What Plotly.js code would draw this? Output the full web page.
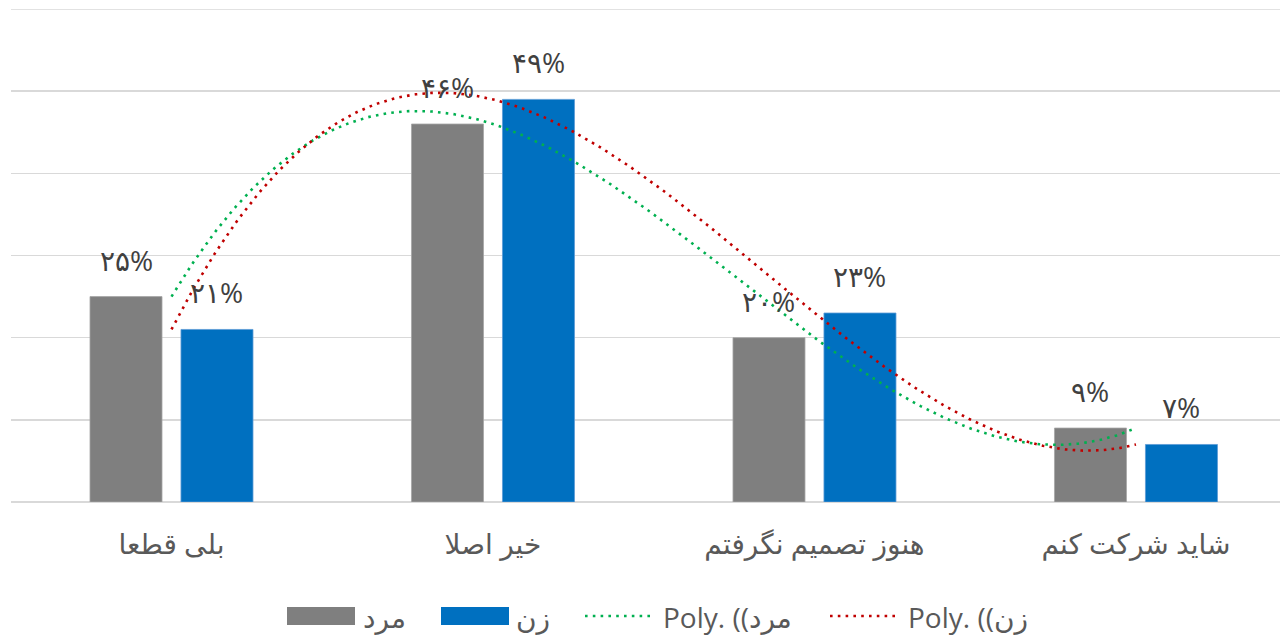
<!DOCTYPE html>
<html>
<head>
<meta charset="utf-8">
<script src="https://cdn.plot.ly/plotly-3.0.1.min.js"></script>
<style>html,body{margin:0;padding:0;background:#fff;}#chart{width:1280px;height:638px;}</style>
</head>
<body>
<div id="chart"></div>
<script>
// ---- data ----
const categories = ["بلی قطعا", "خیر اصلا", "هنوز تصمیم نگرفتم", "شاید شرکت کنم"];
const seriesNames = ["مرد", "زن"];
const menValues = [25, 46, 20, 9];
const womenValues = [21, 49, 23, 7];
const trendPrefix = "Poly. ((";
const gridValues = [0, 10, 20, 30, 40, 50, 60];

// ---- styling ----
const GRAY = "#7f7f7f", BLUE = "#0070c0", GREEN = "#00b050", RED = "#c00000";
const FONT = "Segoe UI, Open Sans, DejaVu Sans, sans-serif";
const W = 1280, H = 638, ML = 11, MR = 0, MT = 9, MB = 136;
const PW = W - ML - MR, PH = H - MT - MB;
const BAR_W = 0.224, OFF_G = -0.2535, OFF_B = 0.0295;
const xs = categories.map((_, i) => i);

function toPersian(n) {
  return String(n).replace(/[0-9]/g, d => "۰۱۲۳۴۵۶۷۸۹"[+d]) + "%";
}
// polynomial (order 3) least-squares trendline, like the spreadsheet's
function polyfit(x, y, deg) {
  const n = deg + 1;
  const A = [], b = [];
  for (let r = 0; r < n; r++) {
    A.push([]);
    for (let c = 0; c < n; c++) A[r].push(x.reduce((s, xi) => s + Math.pow(xi, r + c), 0));
    b.push(x.reduce((s, xi, k) => s + y[k] * Math.pow(xi, r), 0));
  }
  for (let i = 0; i < n; i++) {
    let p = i;
    for (let k = i + 1; k < n; k++) if (Math.abs(A[k][i]) > Math.abs(A[p][i])) p = k;
    [A[i], A[p]] = [A[p], A[i]]; [b[i], b[p]] = [b[p], b[i]];
    for (let k = i + 1; k < n; k++) {
      const f = A[k][i] / A[i][i];
      for (let c = i; c < n; c++) A[k][c] -= f * A[i][c];
      b[k] -= f * b[i];
    }
  }
  const coef = new Array(n).fill(0);
  for (let i = n - 1; i >= 0; i--) {
    let s = b[i];
    for (let c = i + 1; c < n; c++) s -= A[i][c] * coef[c];
    coef[i] = s / A[i][i];
  }
  return coef;
}
function trend(values) {
  const t = values.map((_, i) => i + 1);
  const coef = polyfit(t, values, 3);
  const tx = [], ty = [];
  for (let k = 0; k <= 300; k++) {
    const u = 1 + (t.length - 1) * k / 300;
    tx.push(u - 1);
    ty.push(coef.reduce((s, c, p) => s + c * Math.pow(u, p), 0));
  }
  return {x: tx, y: ty};
}
const tm = trend(menValues), tw = trend(womenValues);
const DASH = "2.6px,5.2px";

const traces = [
  {type: "bar", x: xs, y: menValues, name: seriesNames[0], width: BAR_W, offset: OFF_G,
   marker: {color: GRAY, line: {color: "#a6a6a6", width: 0.8}}, showlegend: false, hoverinfo: "none"},
  {type: "bar", x: xs, y: womenValues, name: seriesNames[1], width: BAR_W, offset: OFF_B,
   marker: {color: BLUE, line: {color: "#5b9bd5", width: 0.8}}, showlegend: false, hoverinfo: "none"},
  {type: "scatter", mode: "lines", x: tm.x, y: tm.y, name: trendPrefix + seriesNames[0],
   line: {color: GREEN, width: 2.6, dash: DASH}, showlegend: false, hoverinfo: "none"},
  {type: "scatter", mode: "lines", x: tw.x, y: tw.y, name: trendPrefix + seriesNames[1],
   line: {color: RED, width: 2.6, dash: DASH}, showlegend: false, hoverinfo: "none"}
];

const LBL = {family: FONT, size: 28, color: "#404040"};
const annotations = [];
menValues.forEach((v, i) => annotations.push({x: i + OFF_G + BAR_W / 2, y: v, text: toPersian(v),
  showarrow: false, yanchor: "bottom", yshift: 16, font: LBL}));
womenValues.forEach((v, i) => annotations.push({x: i + OFF_B + BAR_W / 2, y: v, text: toPersian(v),
  showarrow: false, yanchor: "bottom", yshift: 16, font: LBL}));

// custom legend, in paper coordinates computed from pixels
const px = p => (p - ML) / PW;
const py = p => (H - MB - p) / PH;
const shapes = [
  {type: "line", xref: "paper", yref: "y", x0: 0, x1: 1, y0: gridValues[gridValues.length - 1], y1: gridValues[gridValues.length - 1],
   line: {color: "#d9d9d9", width: 1.4}, layer: "below"},
  {type: "rect", xref: "paper", yref: "paper", x0: px(287), x1: px(355), y0: py(625), y1: py(607), fillcolor: GRAY, line: {width: 0}},
  {type: "rect", xref: "paper", yref: "paper", x0: px(441), x1: px(509), y0: py(625), y1: py(607), fillcolor: BLUE, line: {width: 0}},
  {type: "line", xref: "paper", yref: "paper", x0: px(585), x1: px(653), y0: py(616), y1: py(616), line: {color: GREEN, width: 2.6, dash: DASH}},
  {type: "line", xref: "paper", yref: "paper", x0: px(830), x1: px(898), y0: py(616), y1: py(616), line: {color: RED, width: 2.6, dash: DASH}}
];
const ar = s => '<span style="font-size:28px">' + s + '</span>';
const legTexts = [[ar(seriesNames[0]), 361], [ar(seriesNames[1]), 514],
  [trendPrefix + ar(seriesNames[0]), 661], [trendPrefix + ar(seriesNames[1]), 906]];
legTexts.forEach(([t, x]) => annotations.push({xref: "paper", yref: "paper", x: px(x), y: py(617),
  xanchor: "left", yanchor: "middle", text: t, showarrow: false, font: {family: FONT, size: 28, color: "#595959"}}));

const layout = {
  width: W, height: H,
  margin: {l: ML, r: MR, t: MT, b: MB, pad: 0},
  paper_bgcolor: "#fff", plot_bgcolor: "#fff",
  barmode: "group",
  showlegend: false,
  xaxis: {type: "linear", range: [-0.4992, 3.448], tickvals: xs, ticktext: categories,
    showgrid: false, zeroline: false, showline: false, ticks: "", ticklabelstandoff: 23,
    tickfont: {family: FONT, size: 28, color: "#595959"}, fixedrange: true},
  yaxis: {range: [0, 60], tickvals: gridValues, showticklabels: false, showgrid: true, gridcolor: "#d9d9d9", gridwidth: 1.4,
    zeroline: true, zerolinecolor: "#d9d9d9", zerolinewidth: 1.4, showline: false, ticks: "", fixedrange: true},
  shapes: shapes,
  annotations: annotations
};
Plotly.newPlot("chart", traces, layout, {displayModeBar: false, staticPlot: true});
</script>
</body>
</html>
